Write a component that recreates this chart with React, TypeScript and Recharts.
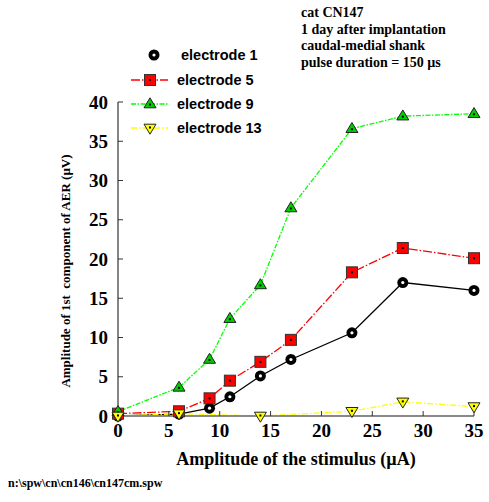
import React from 'react';
import { LineChart, Line, XAxis, YAxis, Legend } from 'recharts';

const categories = [0, 6, 9, 11, 14, 17, 23, 28, 35];
const electrode1 = [0, 0.25, 1.0, 2.45, 5.1, 7.2, 10.6, 17.0, 16.0];
const electrode5 = [0.3, 0.6, 2.25, 4.5, 6.9, 9.7, 18.3, 21.4, 20.1];
const electrode9 = [0.55, 3.65, 7.2, 12.4, 16.7, 26.5, 36.6, 38.2, 38.5];
const electrode13: (number | null)[] = [0, 0.3, null, null, 0, null, 0.6, 1.8, 1.2];
const xTicks = [0, 5, 10, 15, 20, 25, 30, 35];
const yTicks = [0, 5, 10, 15, 20, 25, 30, 35, 40];
const titleLines = ['cat CN147', '1 day after implantation', 'caudal-medial shank', 'pulse duration = 150 µs'];

const data = categories.map((x, i) => ({
  x,
  e1: electrode1[i],
  e5: electrode5[i],
  e9: electrode9[i],
  e13: electrode13[i],
}));

const serif = '"Liberation Serif", "Times New Roman", serif';
const sans = '"Liberation Sans", Arial, sans-serif';

function Marker({ kind, cx, cy }: { kind: string; cx: number; cy: number }) {
  if (cx == null || cy == null || isNaN(cx) || isNaN(cy)) return null;
  if (kind === 'circle') {
    return (
      <g>
        <circle cx={cx} cy={cy} r={5.5} fill="#000" />
        <circle cx={cx} cy={cy} r={1.6} fill="#fff" />
      </g>
    );
  }
  if (kind === 'square') {
    return (
      <g>
        <rect x={cx - 5.5} y={cy - 5.5} width={11} height={11} fill="#ff0000" stroke="#333" strokeWidth={1} />
        <rect x={cx - 1} y={cy - 1} width={2} height={2} fill="#000" />
      </g>
    );
  }
  if (kind === 'tri') {
    const h = 10;
    const w = 12;
    return (
      <g>
        <polygon
          points={`${cx},${cy - h * 0.62} ${cx - w / 2},${cy + h * 0.38} ${cx + w / 2},${cy + h * 0.38}`}
          fill="#00cc00"
          stroke="#222"
          strokeWidth={1}
        />
        <rect x={cx - 1} y={cy - 0.5} width={2} height={2} fill="#000" />
      </g>
    );
  }
  const h = 10;
  const w = 12;
  return (
    <g>
      <polygon
        points={`${cx},${cy + h * 0.62} ${cx - w / 2},${cy - h * 0.38} ${cx + w / 2},${cy - h * 0.38}`}
        fill="#ffff00"
        stroke="#222"
        strokeWidth={1}
      />
      <rect x={cx - 1} y={cy - 1.5} width={2} height={2} fill="#000" />
    </g>
  );
}

const seriesInfo = [
  { key: 'e1', name: 'electrode 1', color: '#000', dash: undefined as string | undefined, kind: 'circle', showLine: false },
  { key: 'e5', name: 'electrode 5', color: '#ff0000', dash: '9 2 1.5 2', kind: 'square', showLine: true },
  { key: 'e9', name: 'electrode 9', color: '#00ff00', dash: '5 1.5 1.5 1.5', kind: 'tri', showLine: true },
  { key: 'e13', name: 'electrode 13', color: '#ffff00', dash: '6 2 1.5 2', kind: 'itri', showLine: true },
];

function LegendContent() {
  const rowY = [55, 80, 104, 128];
  const textX = [181, 177, 177, 177];
  return (
    <svg width={160} height={100} style={{ position: 'absolute', left: 0, top: 0, overflow: 'visible' }}>
      {seriesInfo.map((s, i) => (
        <g key={s.key}>
          {s.showLine && (
            <line x1={131} x2={168} y1={rowY[i]} y2={rowY[i]} stroke={s.color} strokeWidth={1.3} strokeDasharray={s.dash} />
          )}
          <Marker kind={s.kind} cx={i === 0 ? 154 : 150} cy={rowY[i]} />
          <text x={textX[i]} y={rowY[i] + 5} fontFamily={sans} fontWeight="bold" fontSize={14.5} fill="#000">
            {s.name}
          </text>
        </g>
      ))}
    </svg>
  );
}

export default function App() {
  return (
    <div style={{ position: 'absolute', left: 0, top: 0, width: 489, height: 502, background: '#fff' }}>
      <LineChart width={489} height={502} data={data} margin={{ top: 102, right: 15, left: 0, bottom: 56 }}>
        <XAxis
          dataKey="x"
          type="number"
          domain={[0, 35]}
          ticks={xTicks}
          interval={0}
          height={30}
          stroke="#888"
          strokeWidth={2}
          tickSize={-5}
          tickMargin={13}
          tickLine={{ stroke: '#333', strokeWidth: 1 }}
          tick={{ fontFamily: serif, fontWeight: 'bold', fontSize: 19, fill: '#000' }}
        />
        <YAxis
          type="number"
          domain={[0, 40]}
          ticks={yTicks}
          interval={0}
          width={118}
          stroke="#333"
          strokeWidth={1.2}
          tickSize={-5}
          tickMargin={15}
          tickLine={{ stroke: '#333', strokeWidth: 1 }}
          tick={{ fontFamily: serif, fontWeight: 'bold', fontSize: 19, fill: '#000' }}
        />
        <Legend content={() => <LegendContent />} wrapperStyle={{ position: 'absolute', left: 0, top: 0, width: 0, height: 0 }} />
        {seriesInfo.map((s) => (
          <Line
            key={s.key}
            dataKey={s.key}
            name={s.name}
            stroke={s.color}
            strokeWidth={1.3}
            strokeDasharray={s.dash}
            connectNulls
            isAnimationActive={false}
            dot={(p: any) => <Marker key={`${s.key}-${p.index}`} kind={s.kind} cx={p.cx} cy={p.cy} />}
            activeDot={false}
          />
        ))}
      </LineChart>
      <div
        style={{
          position: 'absolute',
          left: 301,
          top: 5,
          fontFamily: serif,
          fontWeight: 'bold',
          fontSize: 14,
          lineHeight: '16.5px',
          color: '#000',
          whiteSpace: 'nowrap',
        }}
      >
        {titleLines.map((t) => (
          <div key={t}>{t}</div>
        ))}
      </div>
      <div
        style={{
          position: 'absolute',
          left: 66,
          top: 271,
          transform: 'translate(-50%, -50%) rotate(-90deg)',
          fontFamily: serif,
          fontWeight: 'bold',
          fontSize: 13,
          whiteSpace: 'pre',
          color: '#000',
        }}
      >
        {'Amplitude of 1st  component of AER (µV)'}
      </div>
      <div
        style={{
          position: 'absolute',
          left: 296,
          top: 459,
          transform: 'translate(-50%, -50%)',
          fontFamily: serif,
          fontWeight: 'bold',
          fontSize: 18,
          whiteSpace: 'nowrap',
          color: '#000',
        }}
      >
        Amplitude of the stimulus (µA)
      </div>
      <div
        style={{
          position: 'absolute',
          left: 8,
          top: 476,
          fontFamily: serif,
          fontWeight: 'bold',
          fontSize: 12,
          whiteSpace: 'nowrap',
          color: '#000',
        }}
      >
        {'n:\\spw\\cn\\cn146\\cn147cm.spw'}
      </div>
    </div>
  );
}
